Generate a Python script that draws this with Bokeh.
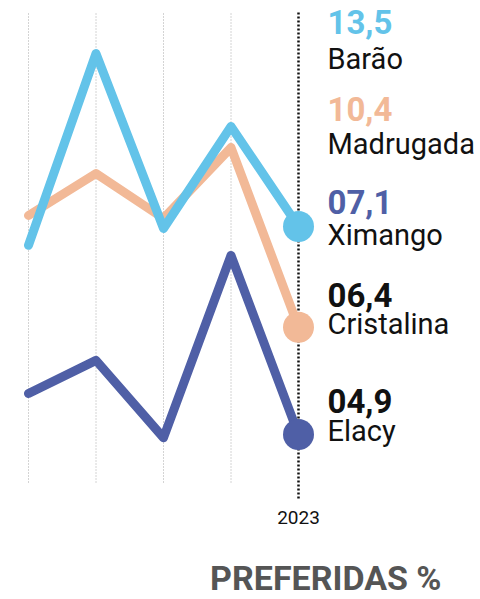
from bokeh.plotting import figure
from bokeh.models import Range1d
from bokeh.core.properties import value
from bokeh.embed import file_html
from bokeh.resources import INLINE

# ---------------- data ----------------
years = [2019, 2020, 2021, 2022, 2023]
barao = [12.92, 18.82, 13.44, 16.58, 13.5]
madrugada = [13.84, 15.13, 13.75, 15.93, 10.4]
ximango = [8.36, 9.38, 7.0, 12.61, 7.1]

label_values = ["13,5", "10,4", "07,1", "06,4", "04,9"]
label_names = ["Barão", "Madrugada", "Ximango", "Cristalina", "Elacy"]
tick_label = "2023"
title_text = "PREFERIDAS %"

# ---------------- layout helpers ----------------
W, H = 480, 599
Y_PX_PER_UNIT = 32.5
Y_ANCHOR_VAL, Y_ANCHOR_PX = 13.5, 226
X_PX_PER_YEAR = 67.5
X_ANCHOR_VAL, X_ANCHOR_PX = 2019, 28


def ypx(py):
    return Y_ANCHOR_VAL + (Y_ANCHOR_PX - py) / Y_PX_PER_UNIT


def xpx(px):
    return X_ANCHOR_VAL + (px - X_ANCHOR_PX) / X_PX_PER_YEAR


def base(py, fs):
    # compensate for the renderer's baseline offset
    return ypx(py - 0.42 * fs)


C_LIGHT = "#63C3E9"
C_PEACH = "#F2B997"
C_DARK = "#4F5FA6"

p = figure(width=W, height=H, output_backend="svg", toolbar_location=None,
           x_range=Range1d(xpx(0), xpx(W)), y_range=Range1d(ypx(H), ypx(0)),
           min_border=0, outline_line_color=None)
p.axis.visible = False
p.grid.visible = False
p.background_fill_color = "white"
p.border_fill_color = "white"

# vertical guide lines
grid_years = years[:-1]
p.segment(x0=grid_years, x1=grid_years, y0=[ypx(13)] * 4, y1=[ypx(484)] * 4,
          line_color="#a8a8a8", line_width=1, line_dash="1 2")
p.segment(x0=[years[-1]], x1=[years[-1]], y0=[ypx(12)], y1=[ypx(498)],
          line_color="#111111", line_width=2.5, line_dash="2 2")

# lines
for series, col in [(ximango, C_DARK), (madrugada, C_PEACH), (barao, C_LIGHT)]:
    p.line(years, series, line_color=col, line_width=9,
           line_join="round", line_cap="round")
for series, col in [(ximango, C_DARK), (madrugada, C_PEACH), (barao, C_LIGHT)]:
    p.scatter([years[-1]], [series[-1]], size=31, fill_color=col,
              line_color=None, marker="circle")

# right labels
lab_x = xpx(327)
val_colors = [C_LIGHT, C_PEACH, C_DARK, "#111111", "#111111"]
val_base = [35, 122, 215, 308, 414]
name_base = [71, 156, 247, 336, 443]
FS_VAL, FS_NAME = 33, 29
p.text(x=[lab_x] * 5, y=[base(b, FS_VAL) for b in val_base], text=label_values,
       text_color=val_colors, text_font=value("Roboto"), text_font_style="bold",
       text_font_size=f"{FS_VAL}px", text_baseline="alphabetic", text_align="left")
p.text(x=[lab_x] * 5, y=[base(b, FS_NAME) for b in name_base], text=label_names,
       text_color="#111111", text_font=value("Roboto"),
       text_font_size=f"{FS_NAME}px", text_baseline="alphabetic", text_align="left")

# tick label
FS_TICK = 19
p.text(x=[years[-1]], y=[base(525, FS_TICK)], text=[tick_label], text_color="#111111",
       text_font=value("Roboto"), text_font_size=f"{FS_TICK}px",
       text_baseline="alphabetic", text_align="center")

# footer title
FS_TITLE = 34
p.text(x=[xpx(441)], y=[base(592, FS_TITLE)], text=[title_text], text_color="#555555",
       text_font=value("Roboto"), text_font_style="bold",
       text_font_size=f"{FS_TITLE}px",
       text_baseline="alphabetic", text_align="right")

open("out.html", "w").write(file_html(p, INLINE))
